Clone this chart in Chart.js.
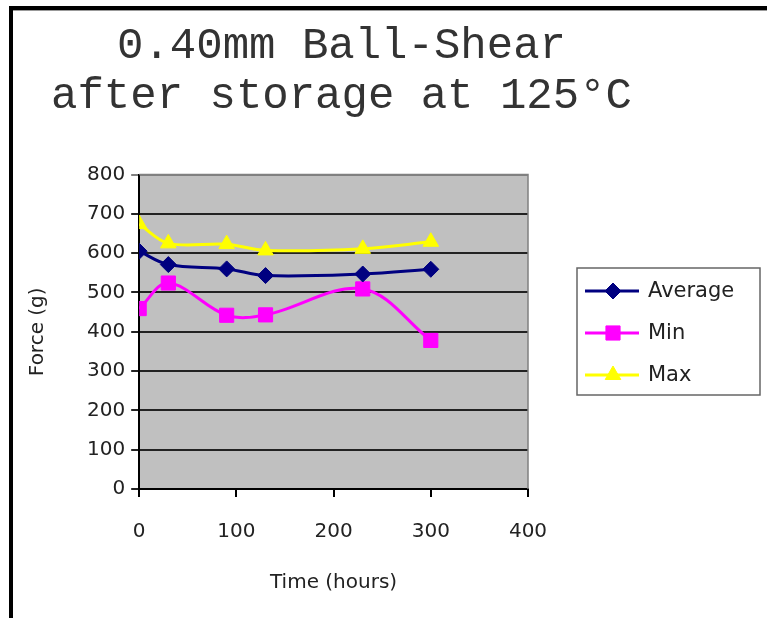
<!DOCTYPE html>
<html>
<head>
<meta charset="utf-8">
<script src="https://cdn.jsdelivr.net/npm/chart.js@4.4.1/dist/chart.umd.min.js"></script>
<style>
  html, body { margin: 0; padding: 0; background: #fff; }
  #frame {
    position: absolute; left: 9px; top: 6px;
    width: 754px; height: 608px;
    border-left: 4px solid #000; border-top: 4px solid #000;
    box-shadow: inset 0 1px 0 #999;
  }
  #wrap { position: absolute; left: 0; top: 0; width: 754px; height: 608px; }
</style>
</head>
<body>
<div id="frame"><div id="wrap"><canvas id="chart"></canvas></div></div>
<script>
// values
const hours = [0, 30, 90, 130, 230, 300];
const averageForce = [605, 571, 560, 543, 547, 559];
const minForce = [459, 524, 442, 443, 509, 378];
const maxForce = [674, 625, 623, 607, 611, 629];
const titleLines = ["0.40mm Ball-Shear", "after storage at 125°C"];

function toPoints(values) {
    return hours.map((h, i) => ({ x: h, y: values[i] }));
}

const axisFont = { family: "DejaVu Sans", size: 20 };

// grey plot area plus thin top/right border
const plotBackground = {
    id: "plotBackground",
    beforeDraw(chart) {
        const { ctx, chartArea: a } = chart;
        ctx.save();
        ctx.fillStyle = "#c0c0c0";
        ctx.fillRect(a.left, a.top, a.right - a.left, a.bottom - a.top);
        ctx.restore();
    },
    afterDraw(chart) {
        const { ctx, chartArea: a } = chart;
        ctx.save();
        ctx.strokeStyle = "#808080";
        ctx.lineWidth = 1.5;
        ctx.beginPath();
        ctx.moveTo(a.left, a.top);
        ctx.lineTo(a.right, a.top);
        ctx.lineTo(a.right, a.bottom);
        ctx.stroke();
        ctx.restore();
    }
};

// boxed legend to the right of the plot, line with marker in the middle
const boxLegend = {
    id: "boxLegend",
    afterDraw(chart) {
        const ctx = chart.ctx;
        const left = 564, top = 258, width = 183, height = 127;
        ctx.save();
        ctx.strokeStyle = "#666";
        ctx.lineWidth = 1.5;
        ctx.strokeRect(left, top, width, height);
        ctx.font = "21px 'DejaVu Sans'";
        ctx.textBaseline = "middle";
        chart.data.datasets.forEach((ds, i) => {
            const y = top + 23 + i * 42;
            ctx.strokeStyle = ds.borderColor;
            ctx.lineWidth = 3;
            ctx.beginPath();
            ctx.moveTo(left + 8, y);
            ctx.lineTo(left + 62, y);
            ctx.stroke();
            ctx.fillStyle = ds.pointBackgroundColor;
            ctx.strokeStyle = ds.pointBorderColor;
            ctx.lineWidth = 1;
            Chart.helpers.drawPoint(ctx, { pointStyle: ds.pointStyle, radius: ds.pointRadius, rotation: 0, borderWidth: 1 }, left + 36, y);
            ctx.fillStyle = "#222";
            ctx.fillText(ds.label, left + 71, y + 1);
        });
        ctx.restore();
    }
};

new Chart(document.getElementById("chart"), {
    type: "line",
    data: {
        datasets: [
            {
                label: "Average",
                data: toPoints(averageForce),
                borderColor: "#000080",
                pointBackgroundColor: "#000080",
                pointBorderColor: "#000080",
                pointStyle: "rectRot",
                pointRadius: 8
            },
            {
                label: "Min",
                data: toPoints(minForce),
                borderColor: "#ff00ff",
                pointBackgroundColor: "#ff00ff",
                pointBorderColor: "#ff00ff",
                pointStyle: "rect",
                pointRadius: 10
            },
            {
                label: "Max",
                data: toPoints(maxForce),
                borderColor: "#ffff00",
                pointBackgroundColor: "#ffff00",
                pointBorderColor: "#ffff00",
                pointStyle: "triangle",
                pointRadius: 9
            }
        ]
    },
    options: {
        responsive: true,
        maintainAspectRatio: false,
        animation: false,
        elements: { line: { borderWidth: 3, tension: 0.35, fill: false } },
        layout: { padding: { left: 13, right: 110, top: 0, bottom: 23 } },
        plugins: {
            legend: { display: false },
            tooltip: { enabled: false },
            title: {
                display: true,
                text: titleLines,
                color: "#333",
                font: { family: "Liberation Mono", size: 44, weight: "normal", lineHeight: 1.12 },
                padding: { top: 12, bottom: 54 }
            }
        },
        scales: {
            x: {
                type: "linear",
                min: 0,
                max: 400,
                ticks: { stepSize: 100, color: "#222", font: axisFont, padding: 23 },
                grid: { drawOnChartArea: false, color: "#000", lineWidth: 2, tickLength: 8 },
                border: { color: "#000", width: 2 },
                title: { display: true, text: "Time (hours)", color: "#222", font: { family: "DejaVu Sans", size: 20 }, padding: { top: 4, bottom: 0 } }
            },
            y: {
                min: 0,
                max: 800,
                ticks: { stepSize: 100, color: "#222", font: axisFont, padding: 6 },
                grid: {
                    color: ctx => (ctx.tick && ctx.tick.value === 800 ? "#808080" : "#222"),
                    lineWidth: 2,
                    tickLength: 8
                },
                border: { color: "#000", width: 2 },
                title: { display: true, text: "Force (g)", color: "#222", font: { family: "DejaVu Sans", size: 20 }, padding: { top: 0, bottom: 31 } }
            },
            spacer: {
                position: "right",
                display: true,
                ticks: { display: false },
                grid: { display: false },
                border: { display: false },
                afterFit(scale) { scale.width = 129; }
            }
        }
    },
    plugins: [plotBackground, boxLegend]
});
</script>
</body>
</html>
